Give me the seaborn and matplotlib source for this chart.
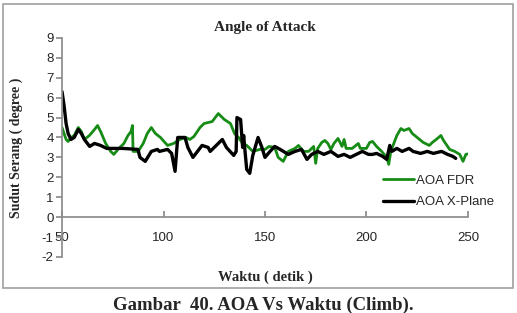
import numpy as np
import pandas as pd
import matplotlib
matplotlib.use("Agg")
import matplotlib.pyplot as plt
import seaborn as sns
from matplotlib.patches import Rectangle

# AOA FDR (green)
fdr_t = [50, 51, 52, 53, 54.5, 56, 58, 59.5, 61, 63.5, 66, 67.5, 69, 71.5, 74, 75.5,
         78, 80.5, 82.5, 84, 84.7, 85, 87.5, 90, 92, 94, 96, 98.5, 102, 105, 108, 111,
         113, 115, 118, 120, 124, 127, 130, 133, 135, 137, 139, 141, 144, 147.5, 150,
         152, 154.8, 156.5, 159, 161.5, 164.8, 166.5, 169, 171.5, 174, 175, 176, 178,
         179.5, 181, 182.5, 184, 186, 188, 189, 190, 193, 196, 197, 200, 201.6, 203,
         205, 207.5, 210, 211, 212, 213.5, 215, 217, 218.5, 221, 222.6, 225, 228, 231,
         232.5, 235, 236.7, 238, 241, 243.5, 246, 247.6, 249, 251]
fdr_v = [4.5, 4.2, 3.9, 3.8, 4.0, 4.1, 4.5, 4.3, 3.9, 4.1, 4.4, 4.6, 4.3, 3.7, 3.3, 3.15,
         3.45, 3.7, 4.1, 4.3, 4.6, 3.3, 3.3, 3.7, 4.2, 4.5, 4.2, 4.0, 3.6, 3.7, 3.9, 4.0,
         3.9, 4.05, 4.5, 4.7, 4.8, 5.2, 4.9, 4.7, 4.2, 4.0, 3.7, 3.6, 3.3, 3.4, 3.4,
         3.55, 3.5, 3.0, 2.8, 3.3, 3.45, 3.6, 3.3, 3.3, 3.55, 2.7, 3.45, 3.75,
         3.85, 3.7, 3.4, 3.7, 3.95, 3.55, 3.9, 3.45, 3.45, 3.7, 3.45, 3.45, 3.75, 3.8,
         3.55, 3.3, 3.0, 2.65, 3.3, 3.7, 4.1, 4.45, 4.35, 4.45, 4.2, 4.0, 3.75, 3.6,
         3.75, 3.95, 4.1, 3.85, 3.4, 3.3, 3.15, 2.8, 3.15, 3.2]

# AOA X-Plane (black)
xp_t = [50, 51, 52, 53, 54.4, 56, 58, 59.5, 61, 63.6, 66, 69, 72, 80, 87.4, 88.4, 91,
        94, 97, 98, 102, 104, 105.7, 107, 110.6, 112, 114.5, 116, 119, 122, 123, 129,
        131, 134.6, 135.8, 136.2, 138, 139, 139.5, 140, 141, 142.5, 144, 146.6, 148.5,
        150, 152.5, 154.8, 157.5, 161.5, 164.8, 168, 170.7, 173, 176, 179, 182.5, 186,
        189, 192, 195, 198, 201, 203, 205, 208, 210, 211.5, 212.5, 215, 217.6, 221,
        223, 226.7, 230, 233, 237, 240, 242.6, 244]
xp_v = [6.3, 5.6, 4.7, 4.2, 3.9, 4.0, 4.4, 4.2, 3.9, 3.55, 3.7, 3.6, 3.45, 3.45, 3.4, 3.0, 2.8,
        3.3, 3.4, 3.3, 3.4, 3.2, 2.3, 4.0, 4.0, 3.5, 3.0, 3.2, 3.6, 3.5, 3.3, 3.9,
        3.5, 3.1, 3.3, 5.0, 4.9, 3.5, 4.1, 3.5, 2.4, 2.2, 3.1, 4.0, 3.5,
        3.0, 3.3, 3.55, 3.4, 3.15, 3.3, 3.4, 2.9, 3.15, 3.3, 3.15, 3.3, 3.05,
        3.15, 3.0, 3.15, 3.3, 3.15, 3.15, 3.2, 3.05, 2.9, 3.6, 3.3, 3.45, 3.3, 3.45,
        3.3, 3.2, 3.3, 3.2, 3.3, 3.15, 3.05, 2.95]

series_names = ["AOA FDR", "AOA X-Plane"]
y_ticks = list(range(-2, 10))
x_ticks = [50, 100, 150, 200, 250]

df = pd.concat([
    pd.DataFrame({"t": fdr_t, "aoa": fdr_v, "series": series_names[0]}),
    pd.DataFrame({"t": xp_t, "aoa": xp_v, "series": series_names[1]}),
], ignore_index=True)

sns.set_theme(style="white")
plt.rcParams["font.family"] = ["Liberation Sans", "DejaVu Sans"]
plt.rcParams["axes.unicode_minus"] = False
serif = ["Liberation Serif", "DejaVu Serif"]

fig = plt.figure(figsize=(5.17, 3.13), dpi=100)
ax = fig.add_axes([0.120, 0.179, 0.785, 0.700])

palette = {"AOA FDR": "#168c16", "AOA X-Plane": "#000000"}
sns.lineplot(data=df, x="t", y="aoa", hue="series", palette=palette, ax=ax,
             sort=False, estimator=None, linewidth=2.0)
# black trace is a touch heavier in the original
for line in ax.lines:
    if line.get_label() == "AOA X-Plane" or matplotlib.colors.to_hex(line.get_color()) == "#000000":
        line.set_linewidth(2.4)

ax.set_xlim(50, 250)
ax.set_ylim(-2, 9)
ax.set_xticks(x_ticks)
ax.set_yticks(y_ticks)

grey = "#8c8c8c"
for side in ["top", "right"]:
    ax.spines[side].set_visible(False)
ax.spines["left"].set_color(grey)
ax.spines["bottom"].set_color(grey)
ax.spines["bottom"].set_position(("data", 0))

ax.tick_params(axis="y", direction="out", length=4, color=grey, labelsize=9.5, pad=2, left=True)
ax.tick_params(axis="x", direction="in", length=4, color=grey, labelsize=9.5, pad=11, bottom=True)

ax.set_title("Angle of Attack", family=serif, fontweight="bold", fontsize=11, pad=5)
ax.set_ylabel("Sudut Serang ( degree )", family=serif, fontweight="bold", fontsize=10)
ax.yaxis.set_label_coords(-0.095, 0.5)
ax.set_xlabel("Waktu ( detik )", family=serif, fontweight="bold", fontsize=10.5)
ax.xaxis.set_label_coords(0.5, -0.06)

ax.legend(loc="upper left", bbox_to_anchor=(0.762, 0.43), frameon=False,
          fontsize=9.5, handlelength=2.3, handletextpad=0.2, labelspacing=0.7)

fig.text(0.51, 0.026, "Gambar  40. AOA Vs Waktu (Climb).", family=serif,
         fontweight="bold", fontsize=13.5, ha="center", va="center")

fig.patches.append(Rectangle((0.006, 0.08), 0.986, 0.907, transform=fig.transFigure,
                             fill=False, edgecolor="#a0a0a0", linewidth=1.2))

fig.savefig("out.png", dpi=100)
